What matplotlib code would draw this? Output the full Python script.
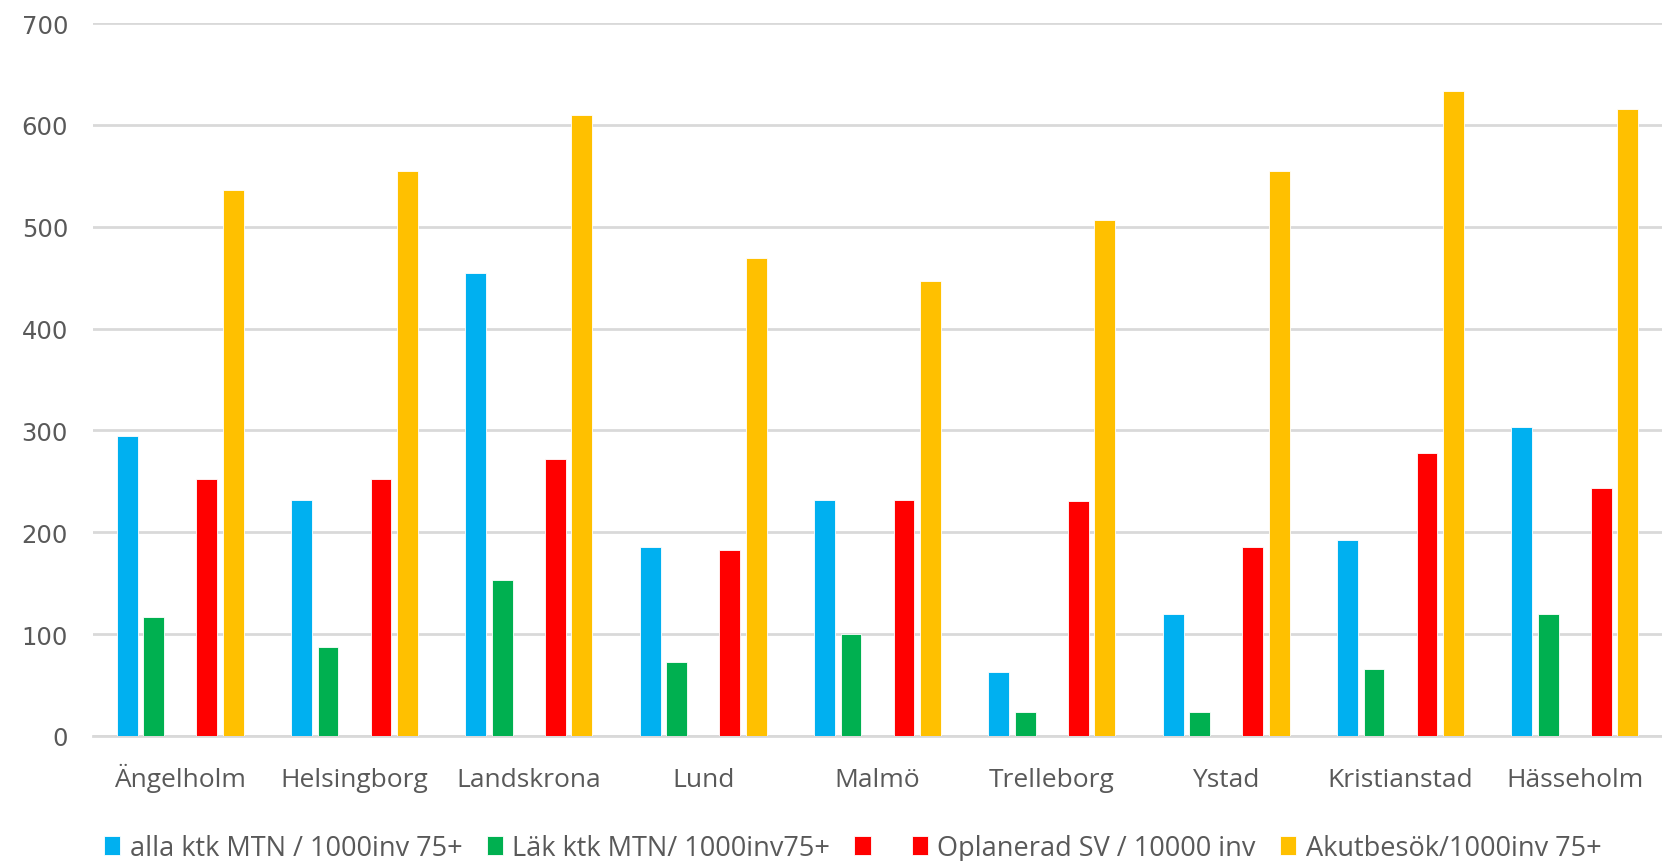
import numpy as np
import matplotlib.pyplot as plt

# ======================
# Data
# ======================
cities = ["Ängelholm", "Helsingborg", "Landskrona", "Lund", "Malmö",
          "Trelleborg", "Ystad", "Kristianstad", "Hässeholm"]

alla_ktk = [295, 232, 455, 186, 232, 63, 120, 192, 303]
lak_ktk = [117, 87, 153, 73, 100, 24, 24, 66, 120]
tom_serie = [0, 0, 0, 0, 0, 0, 0, 0, 0]  # empty series in the original
oplanerad_sv = [252, 252, 272, 183, 232, 231, 186, 278, 243]
akutbesok = [536, 555, 610, 469, 447, 507, 555, 633, 616]

series = [
    ("alla ktk MTN / 1000inv 75+", alla_ktk, "#00b0f0"),
    ("Läk ktk MTN/ 1000inv75+", lak_ktk, "#00b050"),
    (" ", tom_serie, "#ff0000"),
    ("Oplanerad SV / 10000 inv", oplanerad_sv, "#ff0000"),
    ("Akutbesök/1000inv 75+", akutbesok, "#ffc000"),
]

yticks = [0, 100, 200, 300, 400, 500, 600, 700]

# ======================
# Plot
# ======================
plt.rcParams["font.family"] = ["Open Sans", "DejaVu Sans"]
txt_color = "#595959"

fig = plt.figure(figsize=(16.62, 8.62), dpi=100)
ax = fig.add_axes([93 / 1662, 1 - 737 / 862, 1 - 93 / 1662, (737 - 24) / 862])

x = np.arange(len(cities))
slot = 0.152
width = 0.12
handles = []
for i, (name, vals, color) in enumerate(series):
    h = ax.bar(x + (i - 2) * slot, vals, width, color=color, label=name,
               edgecolor="white", linewidth=0.6, zorder=3)
    handles.append(h)

ax.set_xlim(-0.5, len(cities) - 0.5)
ax.set_ylim(0, 700)
ax.set_yticks(yticks)
ax.set_xticks(x)
ax.set_xticklabels(cities, fontsize=19, color=txt_color, va="baseline")
for lbl in ax.get_yticklabels():
    lbl.set_fontfamily("DejaVu Sans")
    lbl.set_fontsize(17.5)
    lbl.set_color(txt_color)

ax.grid(axis="y", color="#d9d9d9", linewidth=2, zorder=0)
for side in ["top", "right", "left"]:
    ax.spines[side].set_visible(False)
ax.spines["bottom"].set_color("#d9d9d9")
ax.spines["bottom"].set_linewidth(2)
ax.tick_params(length=0)
ax.tick_params(axis="x", pad=36)
ax.tick_params(axis="y", pad=18)

leg = fig.legend(handles=handles, loc="center", bbox_to_anchor=(0.513, 1 - 849 / 862),
                 ncol=5, frameon=False, fontsize=19.5, handlelength=0.6,
                 handleheight=0.75, handletextpad=0.35, columnspacing=0.9)
for t in leg.get_texts():
    t.set_color(txt_color)

fig.savefig("out.png", dpi=100)
